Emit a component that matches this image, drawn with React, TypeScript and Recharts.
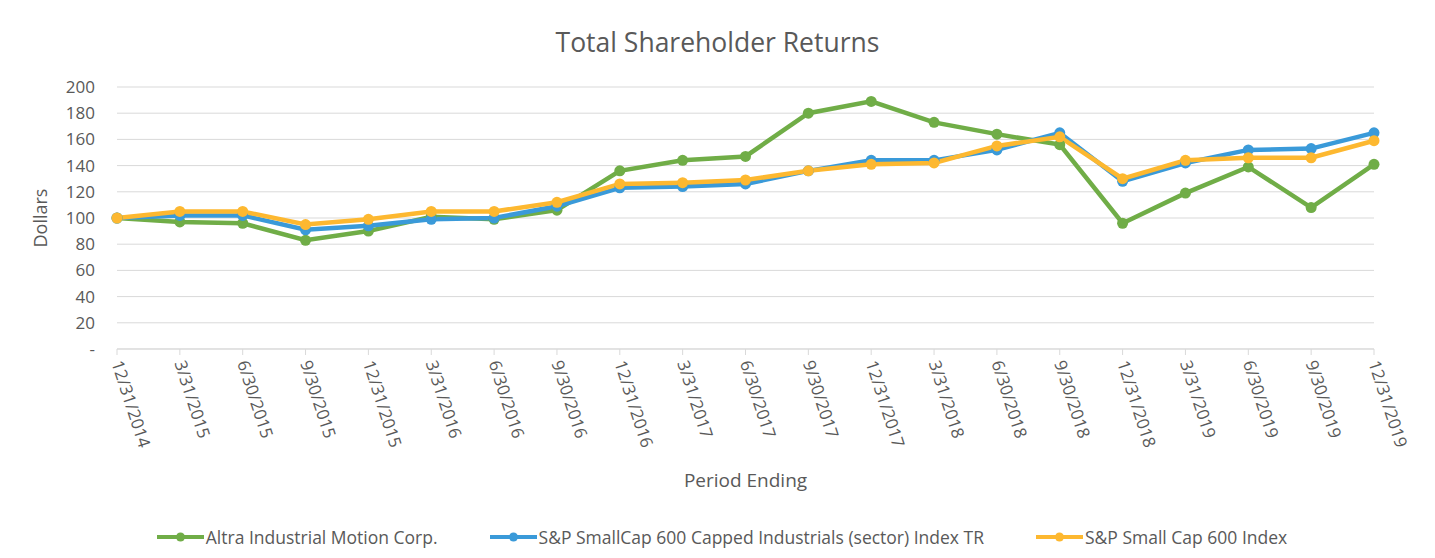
import { LineChart, Line, XAxis, YAxis, CartesianGrid, Legend } from "recharts";

const periods = [
  "12/31/2014", "3/31/2015", "6/30/2015", "9/30/2015", "12/31/2015",
  "3/31/2016", "6/30/2016", "9/30/2016", "12/31/2016", "3/31/2017",
  "6/30/2017", "9/30/2017", "12/31/2017", "3/31/2018", "6/30/2018",
  "9/30/2018", "12/31/2018", "3/31/2019", "6/30/2019", "9/30/2019",
  "12/31/2019",
];

const altra = [100, 97, 96, 83, 90, 101, 99, 106, 136, 144, 147, 180, 189, 173, 164, 156, 96, 119, 139, 108, 141];
const sector = [100, 102, 102, 91, 94, 99, 100, 109, 123, 124, 126, 136, 144, 144, 152, 165, 128, 142, 152, 153, 165];
const smallCap = [100, 105, 105, 95, 99, 105, 105, 112, 126, 127, 129, 136, 141, 142, 155, 162, 130, 144, 146, 146, 159];

const yTicks = [0, 20, 40, 60, 80, 100, 120, 140, 160, 180, 200];

const series = [
  { key: "altra", name: "Altra Industrial Motion Corp.", color: "#70ad47" },
  { key: "sector", name: "S&P SmallCap 600 Capped Industrials (sector) Index TR", color: "#3a9ad9" },
  { key: "smallCap", name: "S&P Small Cap 600 Index", color: "#fdb830" },
];

const data = periods.map((p, i) => ({
  period: p,
  altra: altra[i],
  sector: sector[i],
  smallCap: smallCap[i],
}));

const FONT = "'Open Sans', sans-serif";
const GREY = "#595959";

function DateTick({ x, y, payload }: any) {
  return (
    <g transform={`translate(${x},${y})`}>
      <text
        x={0}
        y={0}
        dy="0.35em"
        textAnchor="start"
        transform="rotate(72)"
        fill={GREY}
        fontSize={17}
        fontFamily={FONT}
      >
        {payload.value}
      </text>
    </g>
  );
}

function LegendContent() {
  return (
    <div
      style={{
        height: 40,
        paddingLeft: 70,
        display: "flex",
        alignItems: "center",
        justifyContent: "center",
        gap: 52,
        fontFamily: FONT,
        fontSize: 17.5,
        color: GREY,
      }}
    >
      {series.map((s) => (
        <div key={s.key} style={{ display: "flex", alignItems: "center" }}>
          <svg width={47} height={12} style={{ marginRight: 2 }}>
            <line x1={0} y1={6} x2={47} y2={6} stroke={s.color} strokeWidth={4} />
            <circle cx={23.5} cy={6} r={4.5} fill={s.color} />
          </svg>
          <span>{s.name}</span>
        </div>
      ))}
    </div>
  );
}

export default function App() {
  return (
    <div style={{ position: "absolute", left: 0, top: 0, width: 1435, height: 558, background: "#fff" }}>
      <div
        style={{
          position: "absolute",
          top: 24,
          left: 0,
          width: 1435,
          textAlign: "center",
          fontFamily: FONT,
          fontSize: 26.5,
          color: GREY,
        }}
      >
        Total Shareholder Returns
      </div>
      <LineChart width={1435} height={558} data={data} margin={{ top: 87, right: 61, bottom: 1, left: 0 }}>
        <CartesianGrid vertical={false} stroke="#d9d9d9" />
        <XAxis
          dataKey="period"
          scale="point"
          padding={{ left: 0, right: 0 }}
          height={168}
          stroke="#d9d9d9"
          tickSize={6}
          tickMargin={6}
          interval={0}
          tick={<DateTick />}
          label={{ value: "Period Ending", position: "insideBottom", offset: 30, fill: GREY, fontSize: 19, fontFamily: FONT }}
        />
        <YAxis
          width={117}
          domain={[0, 200]}
          ticks={yTicks}
          axisLine={false}
          tickLine={false}
          tickSize={0}
          tickMargin={22}
          tickFormatter={(v: number) => (v === 0 ? "-" : String(v))}
          tick={{ fill: GREY, fontSize: 17, fontFamily: FONT }}
          label={{
            content: ({ viewBox }: any) => (
              <text
                x={viewBox.x + 40}
                y={viewBox.y + viewBox.height / 2}
                transform={`rotate(-90, ${viewBox.x + 40}, ${viewBox.y + viewBox.height / 2})`}
                textAnchor="middle"
                dominantBaseline="central"
                fill={GREY}
                fontSize={18}
                fontFamily={FONT}
              >
                Dollars
              </text>
            ),
          }}
        />
        <Legend verticalAlign="bottom" height={40} content={<LegendContent />} />
        {series.map((s) => (
          <Line
            key={s.key}
            dataKey={s.key}
            name={s.name}
            stroke={s.color}
            strokeWidth={4.5}
            dot={{ r: 5.5, fill: s.color, stroke: s.color, strokeWidth: 0 }}
            activeDot={false}
            isAnimationActive={false}
          />
        ))}
      </LineChart>
    </div>
  );
}
